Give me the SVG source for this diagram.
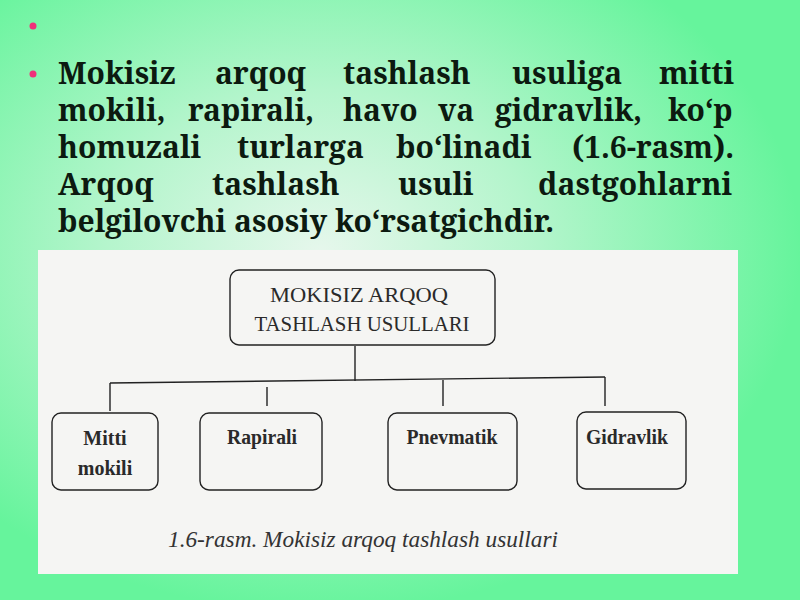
<svg xmlns="http://www.w3.org/2000/svg" width="800" height="600" viewBox="0 0 800 600">
<defs>
<radialGradient id="bg" cx="0.4" cy="0.42" r="0.6">
<stop offset="0" stop-color="#e6f7ec"/>
<stop offset="0.45" stop-color="#b4f5cc"/>
<stop offset="1" stop-color="#66f49c"/>
</radialGradient>
<style>
.body{font-family:"Noto Serif","DejaVu Serif",serif;font-weight:bold;font-size:30px;fill:#0c1a10}
.box{fill:none;stroke:#222;stroke-width:1.4}
.line{fill:none;stroke:#222;stroke-width:1.4}
.lbl{font-family:"Liberation Serif",serif;font-weight:bold;font-size:20px;fill:#2a2a2a;text-anchor:middle}
.top{font-family:"Liberation Serif",serif;font-size:20px;fill:#2a2a2a;text-anchor:middle}
.cap{font-family:"Liberation Serif",serif;font-style:italic;font-size:23px;fill:#333}
.bul{fill:#f0307a}
</style>
</defs>
<rect width="800" height="600" fill="url(#bg)"/>
<circle class="bul" cx="33" cy="26" r="3.5"/>
<circle class="bul" cx="33" cy="74" r="3.5"/>
<g id="paragraph" class="body">
<text y="84"><tspan x="58">Mokisiz</tspan><tspan x="215">arqoq</tspan><tspan x="343">tashlash</tspan><tspan x="512">usuliga</tspan><tspan x="659">mitti</tspan></text>
<text y="121"><tspan x="58">mokili,</tspan><tspan x="188">rapirali,</tspan><tspan x="343">havo</tspan><tspan x="438">va</tspan><tspan x="495">gidravlik,</tspan><tspan x="668">ko‘p</tspan></text>
<text y="158"><tspan x="58">homuzali</tspan><tspan x="237">turlarga</tspan><tspan x="396">bo‘linadi</tspan><tspan x="572">(1.6-rasm).</tspan></text>
<text y="195"><tspan x="58">Arqoq</tspan><tspan x="212">tashlash</tspan><tspan x="398">usuli</tspan><tspan x="538">dastgohlarni</tspan></text>
<text y="232" x="58">belgilovchi asosiy ko‘rsatgichdir.</text>
</g>
<rect x="38" y="250" width="700" height="324" fill="#f5f5f3"/>
<g id="connectors">
<path class="line" d="M355 346 V381"/>
<path class="line" d="M110 383 L605 377"/>
<path class="line" d="M110 383 V411"/>
<path class="line" d="M267 387 V406"/>
<path class="line" d="M443 380 V406"/>
<path class="line" d="M605 377 V406"/>
</g>
<g id="root">
<rect class="box" x="230" y="270" width="265" height="75" rx="9"/>
<text class="top" x="359" y="302" textLength="178" lengthAdjust="spacingAndGlyphs">MOKISIZ ARQOQ</text>
<text class="top" x="362" y="331" textLength="215" lengthAdjust="spacingAndGlyphs">TASHLASH USULLARI</text>
</g>
<g id="mitti">
<rect class="box" x="52" y="413" width="106" height="77" rx="9"/>
<text class="lbl" x="105" y="445">Mitti</text>
<text class="lbl" x="105" y="475">mokili</text>
</g>
<g id="rapirali">
<rect class="box" x="200" y="413" width="122" height="77" rx="9"/>
<text class="lbl" x="262" y="444" textLength="70" lengthAdjust="spacingAndGlyphs">Rapirali</text>
</g>
<g id="pnevmatik">
<rect class="box" x="388" y="413" width="129" height="77" rx="9"/>
<text class="lbl" x="452" y="444" textLength="91" lengthAdjust="spacingAndGlyphs">Pnevmatik</text>
</g>
<g id="gidravlik">
<rect class="box" x="577" y="412" width="109" height="77" rx="9"/>
<text class="lbl" x="627" y="444" textLength="82" lengthAdjust="spacingAndGlyphs">Gidravlik</text>
</g>
<text class="cap" x="168" y="547" textLength="390" lengthAdjust="spacingAndGlyphs">1.6-rasm. Mokisiz arqoq tashlash usullari</text>
</svg>
